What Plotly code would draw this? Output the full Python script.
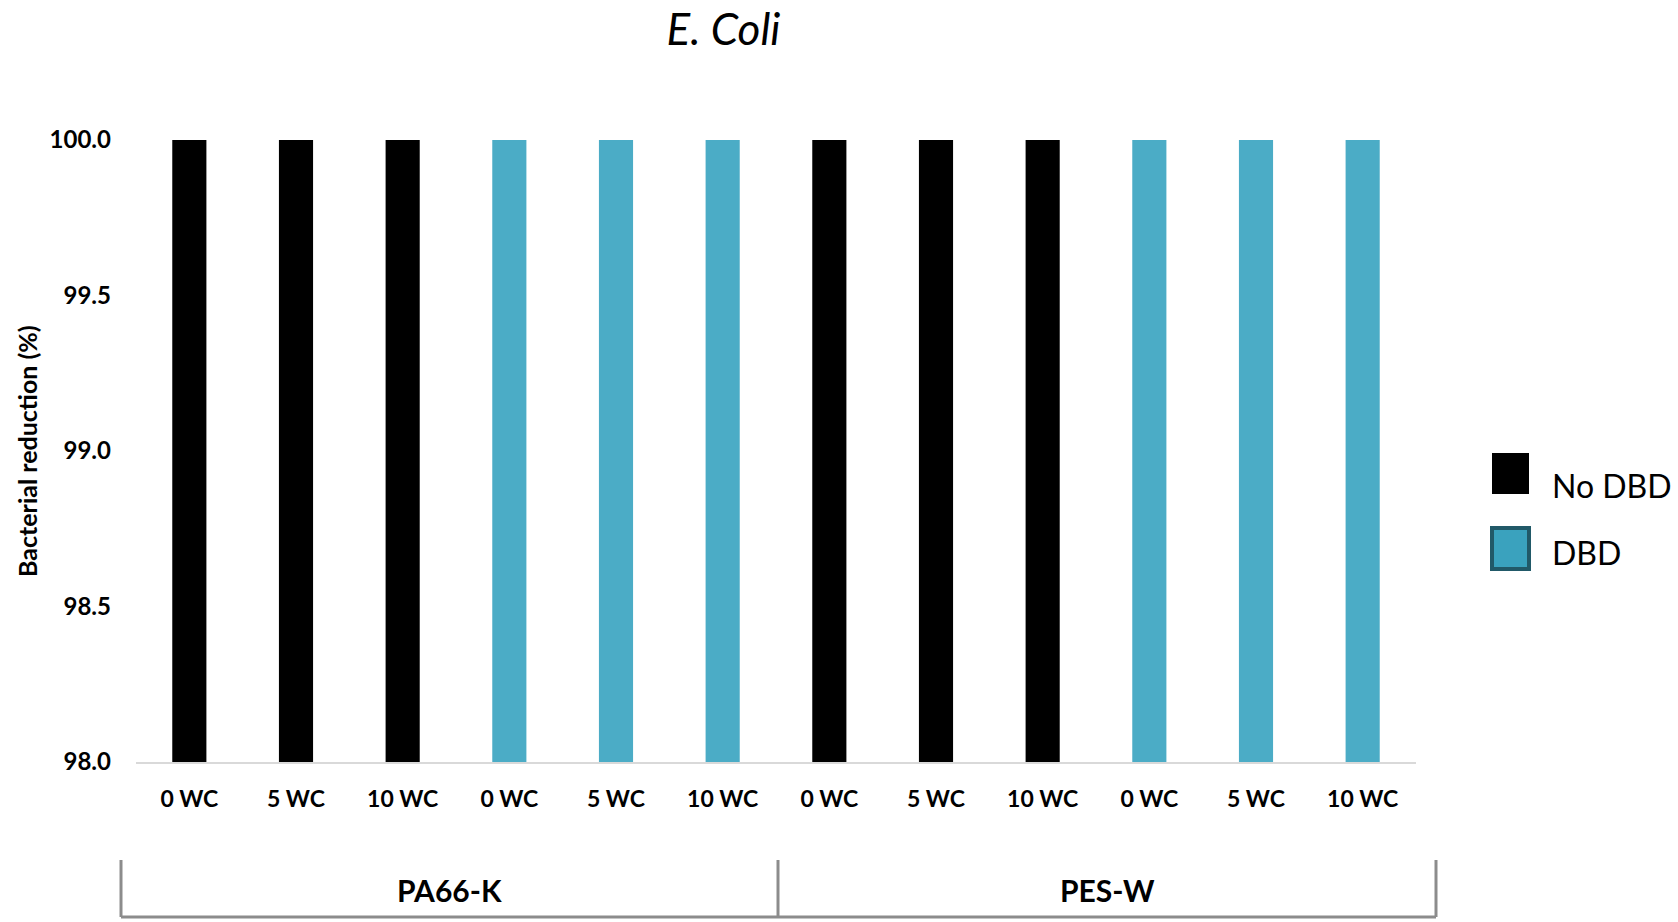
import plotly.graph_objects as go

# ---- data ----
fabrics = ["PA66-K", "PES-W"]
wash_cycles = ["0 WC", "5 WC", "10 WC"]
treatments = ["No DBD", "DBD"]
no_dbd_pa66k = [100.0, 100.0, 100.0]
dbd_pa66k = [100.0, 100.0, 100.0]
no_dbd_pesw = [100.0, 100.0, 100.0]
dbd_pesw = [100.0, 100.0, 100.0]

colors = {"No DBD": "#000000", "DBD": "#4BACC6"}

series = {
    ("PA66-K", "No DBD"): no_dbd_pa66k,
    ("PA66-K", "DBD"): dbd_pa66k,
    ("PES-W", "No DBD"): no_dbd_pesw,
    ("PES-W", "DBD"): dbd_pesw,
}

xs = {t: [] for t in treatments}
ys = {t: [] for t in treatments}
tickvals, ticktext = [], []
pos = 0
for f in fabrics:
    for t in treatments:
        for wc, v in zip(wash_cycles, series[(f, t)]):
            xs[t].append(pos)
            ys[t].append(v)
            tickvals.append(pos)
            ticktext.append(wc)
            pos += 1

fig = go.Figure()
for t in treatments:
    fig.add_trace(go.Bar(x=xs[t], y=ys[t], name=t, marker_color=colors[t],
                         marker_line_width=0, width=0.32, showlegend=False))

FONT = "Lato"
W, H = 1678, 922
ml, mr, mt, mb = 136, 262, 140, 160

fig.update_layout(
    width=W, height=H,
    margin=dict(l=ml, r=mr, t=mt, b=mb),
    plot_bgcolor="white", paper_bgcolor="white",
    barmode="overlay",
    font=dict(family=FONT, color="#000000"),
    title=dict(text="<i>E. Coli</i>", x=723.5 / W, xref="container", xanchor="center",
               y=1 - 30 / H, yref="container", yanchor="middle",
               font=dict(family=FONT, size=44, color="#000000")),
)

fig.update_xaxes(
    range=[-0.5, len(tickvals) - 0.5],
    tickmode="array", tickvals=tickvals, ticktext=ticktext,
    tickfont=dict(family=FONT, size=23, color="#000000", weight="bold"),
    ticks="", ticklabelstandoff=15,
    showline=True, linecolor="#D9D9D9", linewidth=2,
    showgrid=False, zeroline=False,
)
fig.update_yaxes(
    range=[98, 100], dtick=0.5, tickformat=".1f",
    tickfont=dict(family=FONT, size=24, color="#000000", weight="bold"),
    ticks="", ticklabelstandoff=24,
    showline=False, showgrid=False, zeroline=False,
)

# helpers: pixel -> paper coordinates
px = lambda x: (x - ml) / (W - ml - mr)
py = lambda y: (H - mb - y) / (H - mt - mb)

# y-axis title
fig.add_annotation(x=px(27), y=py(451), xref="paper", yref="paper",
                   text="<b>Bacterial reduction (%)</b>", textangle=-90, showarrow=False,
                   xanchor="center", yanchor="middle",
                   font=dict(family=FONT, size=25, color="#000000"))

# group bracket beneath categories
bracket_top, bracket_bot = py(860), py(917)
edges = [px(121), px(778), px(1436)]
line_style = dict(color="#8C8C8C", width=3)
for ex in edges:
    fig.add_shape(type="line", xref="paper", yref="paper", x0=ex, x1=ex,
                  y0=bracket_top, y1=bracket_bot, line=line_style)
fig.add_shape(type="line", xref="paper", yref="paper", x0=edges[0], x1=edges[-1],
              y0=bracket_bot, y1=bracket_bot, line=line_style)
for i, f in enumerate(fabrics):
    fig.add_annotation(x=(edges[i] + edges[i + 1]) / 2, xref="paper", y=py(890), yref="paper",
                       text=f"<b>{f}</b>", showarrow=False, xanchor="center", yanchor="middle",
                       font=dict(family=FONT, size=30, color="#000000"))

# custom legend (large square swatches)
legend_rows = [("No DBD", 453, 494, 485, "#000000", "#000000", 0),
               ("DBD", 528, 569, 552, "#3AA2BE", "#215968", 4)]
for name, y0, y1, ty, fill, lc, lw in legend_rows:
    fig.add_shape(type="rect", xref="paper", yref="paper",
                  x0=px(1492), x1=px(1529), y0=py(y0), y1=py(y1),
                  fillcolor=fill, line=dict(color=lc, width=lw))
    fig.add_annotation(x=px(1550), y=py(ty), xref="paper", yref="paper", text=name,
                       showarrow=False, xanchor="left", yanchor="middle",
                       font=dict(family=FONT, size=32, color="#000000"))

fig.write_html("out.html")
